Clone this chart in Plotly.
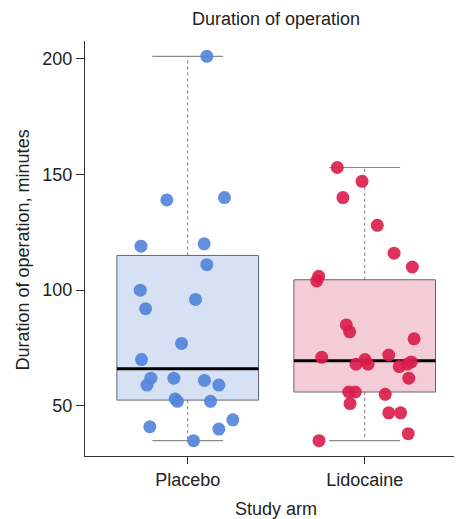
import plotly.graph_objects as go

# ---------------- data ----------------
categories = ["Placebo", "Lidocaine"]

placebo_minutes = [201, 139, 140, 119, 120, 111, 100, 96, 92, 77, 70, 62, 62, 61,
                   59, 59, 53, 52, 52, 44, 41, 40, 35]
placebo_jitter = [0.108, -0.118, 0.208, -0.264, 0.093, 0.108, -0.268, 0.044, -0.238,
                  -0.035, -0.261, -0.208, -0.078, 0.095, -0.230, 0.176, -0.071, -0.058,
                  0.129, 0.255, -0.214, 0.176, 0.033]

lidocaine_minutes = [153, 147, 140, 128, 116, 110, 106, 104, 85, 82, 79, 72, 71, 70,
                     68, 68, 69, 68, 67, 62, 56, 56, 55, 51, 47, 47, 38, 35]
lidocaine_jitter = [-0.155, -0.015, -0.123, 0.071, 0.166, 0.269, -0.260, -0.271, -0.104,
                    -0.085, 0.279, 0.136, -0.243, 0.002, -0.049, 0.019, 0.263, 0.241,
                    0.195, 0.249, -0.090, -0.053, 0.116, -0.083, 0.136, 0.203, 0.246,
                    -0.258]

# box statistics as drawn in the reference
box_q1 = [52.5, 56]
box_median = [66, 69.5]
box_q3 = [115, 104.5]
box_min = [35, 35]
box_max = [201, 153]

y_ticks = [50, 100, 150, 200]

# ---------------- styling ----------------
point_colors = ["rgba(84,132,218,0.92)", "rgba(217,28,74,0.9)"]
fill_colors = ["#D6E1F4", "#F4CCD8"]
FONT = "Liberation Sans, Arial, Helvetica, sans-serif"
BOX_HALF = 0.4
CAP_HALF = 0.2

fig = go.Figure()

series = [(placebo_minutes, placebo_jitter), (lidocaine_minutes, lidocaine_jitter)]

for i, cat in enumerate(categories):
    c = i + 1
    # whiskers (dashed)
    fig.add_trace(go.Scatter(
        x=[c, c, None, c, c],
        y=[box_q3[i], box_max[i], None, box_q1[i], box_min[i]],
        mode="lines", line=dict(color="#7a7a7a", width=1, dash="3px,3px"),
        hoverinfo="skip", showlegend=False))
    # caps
    fig.add_trace(go.Scatter(
        x=[c - CAP_HALF, c + CAP_HALF, None, c - CAP_HALF, c + CAP_HALF],
        y=[box_max[i], box_max[i], None, box_min[i], box_min[i]],
        mode="lines", line=dict(color="#8c8c8c", width=1.2),
        hoverinfo="skip", showlegend=False))
    # box
    fig.add_trace(go.Scatter(
        x=[c - BOX_HALF, c + BOX_HALF, c + BOX_HALF, c - BOX_HALF, c - BOX_HALF],
        y=[box_q1[i], box_q1[i], box_q3[i], box_q3[i], box_q1[i]],
        mode="lines", fill="toself", fillcolor=fill_colors[i],
        line=dict(color="#666666", width=1),
        hoverinfo="skip", showlegend=False))
    # median
    fig.add_trace(go.Scatter(
        x=[c - BOX_HALF, c + BOX_HALF],
        y=[box_median[i], box_median[i]],
        mode="lines", line=dict(color="#000000", width=3),
        hoverinfo="skip", showlegend=False))

for i, (vals, jit) in enumerate(series):
    c = i + 1
    fig.add_trace(go.Scatter(
        x=[c + j for j in jit], y=vals, mode="markers",
        marker=dict(size=13, color=point_colors[i], line=dict(width=0)),
        name=categories[i], showlegend=False))

# page has an 8px body margin, so the figure is placed 8px in from the top-left
OFF = 8
W, H = 462 - OFF, 519 - OFF
L, T, B = 85 - OFF, 41 - OFF, 63
PW = W - L          # plot width in px
PH = H - T - B      # plot height in px
fig.update_layout(
    width=W, height=H,
    margin=dict(l=L, r=0, t=T, b=B, pad=0),
    paper_bgcolor="white", plot_bgcolor="white",
    font=dict(family=FONT, size=18, color="#222222"),
    title=dict(text="Duration of operation", font=dict(size=18, color="#222222"),
               xref="container", x=(276 - OFF) / W, xanchor="center",
               yref="container", y=1 - (19 - OFF) / H, yanchor="middle"),
    xaxis=dict(range=[0.4198, 2.5497], tickmode="array", tickvals=[1, 2],
               ticktext=categories, showline=True, linecolor="#333333", linewidth=1.3,
               ticks="outside", ticklen=7, tickcolor="#333333", tickwidth=1.3,
               showgrid=False, zeroline=False, fixedrange=True),
    yaxis=dict(range=[28.36, 207.64], tickmode="array", tickvals=y_ticks,
               showline=True, linecolor="#333333", linewidth=1.3,
               ticks="outside", ticklen=8, tickcolor="#333333", tickwidth=1.3,
               showgrid=False, zeroline=False, fixedrange=True),
    annotations=[
        dict(text="Study arm", xref="paper", yref="paper",
             x=(276 - 85) / PW, y=-(509 - 456) / PH,
             xanchor="center", yanchor="middle", showarrow=False,
             font=dict(size=18, color="#222222")),
        dict(text="Duration of operation, minutes", xref="paper", yref="paper",
             x=(23 - 85) / PW, y=(456 - 250.5) / PH, textangle=-90,
             xanchor="center", yanchor="middle", showarrow=False,
             font=dict(size=18, color="#222222")),
    ],
)

fig.write_html("out.html")
